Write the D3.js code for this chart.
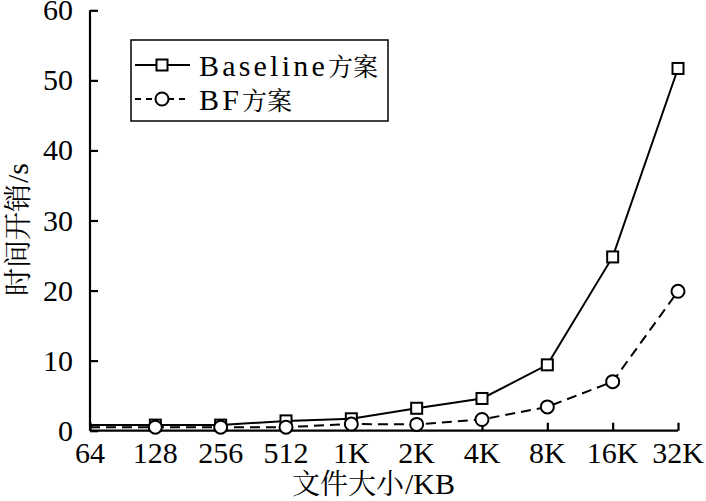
<!DOCTYPE html>
<html><head><meta charset="utf-8">
<script src="https://cdn.jsdelivr.net/npm/d3@7"></script>
</head><body>
<script>
const categories = ["64","128","256","512","1K","2K","4K","8K","16K","32K"];
const baselineValues = [0.8,0.8,0.8,1.4,1.7,3.2,4.6,9.4,24.8,51.7];
const bfValues = [0.5,0.5,0.5,0.5,0.95,0.9,1.6,3.4,7.0,19.9];
const yTicks = [0,10,20,30,40,50,60];
const seriesNames = [["Baseline","方案"],["BF","方案"]];

const LAT='"Times New Roman"';
const CJK='"Noto Serif CJK SC"';
document.body.style.margin="0";
const svg=d3.select("body").append("svg").attr("width",706).attr("height",501).style("display","block");
const x=d3.scalePoint().domain(categories).range([90,678]);
const y=d3.scaleLinear().domain([0,60]).range([430.7,10.3]);

function T(sel,fam,size){return sel.style("font-family",fam).style("font-size",size+"px");}

const xa=svg.append("g").attr("transform","translate(0,430.7)")
  .call(d3.axisBottom(x).tickSizeInner(-8).tickSizeOuter(0).tickFormat(""));
const ya=svg.append("g").attr("transform","translate(90,0)")
  .call(d3.axisLeft(y).tickValues(yTicks).tickSizeInner(-8).tickSizeOuter(0).tickFormat(""));
[xa,ya].forEach(a=>{
  a.selectAll("path,line").attr("stroke","#000").attr("stroke-width",2.2);
  a.selectAll("text").remove();
});
xa.select(".domain").attr("d","M90,0H678");
ya.select(".domain").attr("d","M0,430.7V10.3");

categories.forEach(c=>{
  T(svg.append("text").attr("x",x(c)).attr("y",463).attr("text-anchor","middle"),LAT,30).text(c);
});
yTicks.forEach(v=>{
  T(svg.append("text").attr("x",73).attr("y",y(v)+10).attr("text-anchor","end"),LAT,30).text(v);
});

const line=d3.line().x((d,i)=>x(categories[i])).y(d=>y(d));
svg.append("path").datum(bfValues).attr("d",line).attr("fill","none")
  .attr("stroke","#000").attr("stroke-width",2).attr("stroke-dasharray","10,6");
svg.append("path").datum(baselineValues).attr("d",line).attr("fill","none")
  .attr("stroke","#000").attr("stroke-width",2);

const s=11;
svg.append("g").selectAll("rect").data(baselineValues.slice(1)).join("rect")
  .attr("x",(d,i)=>x(categories[i+1])-s/2).attr("y",d=>y(d)-s/2)
  .attr("width",s).attr("height",s).attr("fill","#fff").attr("stroke","#000").attr("stroke-width",2);
svg.append("g").selectAll("circle").data(bfValues.slice(1)).join("circle")
  .attr("cx",(d,i)=>x(categories[i+1])).attr("cy",d=>y(d)).attr("r",6.5)
  .attr("fill","#fff").attr("stroke","#000").attr("stroke-width",2);

const lg=svg.append("g");
lg.append("rect").attr("x",131).attr("y",40).attr("width",257).attr("height",81)
  .attr("fill","#fff").attr("stroke","#000").attr("stroke-width",1.5);
const ly=[65,99];
lg.append("line").attr("x1",135).attr("x2",190).attr("y1",ly[0]).attr("y2",ly[0]).attr("stroke","#000").attr("stroke-width",2);
lg.append("rect").attr("x",162-s/2).attr("y",ly[0]-s/2).attr("width",s).attr("height",s).attr("fill","#fff").attr("stroke","#000").attr("stroke-width",2);
lg.append("line").attr("x1",135).attr("x2",190).attr("y1",ly[1]).attr("y2",ly[1]).attr("stroke","#000").attr("stroke-width",2).attr("stroke-dasharray","6,5");
lg.append("circle").attr("cx",162).attr("cy",ly[1]).attr("r",6.5).attr("fill","#fff").attr("stroke","#000").attr("stroke-width",2);
seriesNames.forEach((n,i)=>{
  const t=lg.append("text").attr("x",199).attr("y",ly[i]+10.5);
  T(t.append("tspan"),LAT,30).style("letter-spacing","3.2px").text(n[0]);
  T(t.append("tspan"),CJK,25).text(n[1]);
});

T(svg.append("text").attr("x",292).attr("y",494),CJK,28).text("文件大小");
T(svg.append("text").attr("x",405).attr("y",494),LAT,30).text("/KB");
const yg=svg.append("g").attr("transform","translate(28,296) rotate(-90)");
T(yg.append("text").attr("x",0).attr("y",0),CJK,28).text("时间开销");
T(yg.append("text").attr("x",113).attr("y",0),LAT,30).text("/s");
</script>
</body></html>
